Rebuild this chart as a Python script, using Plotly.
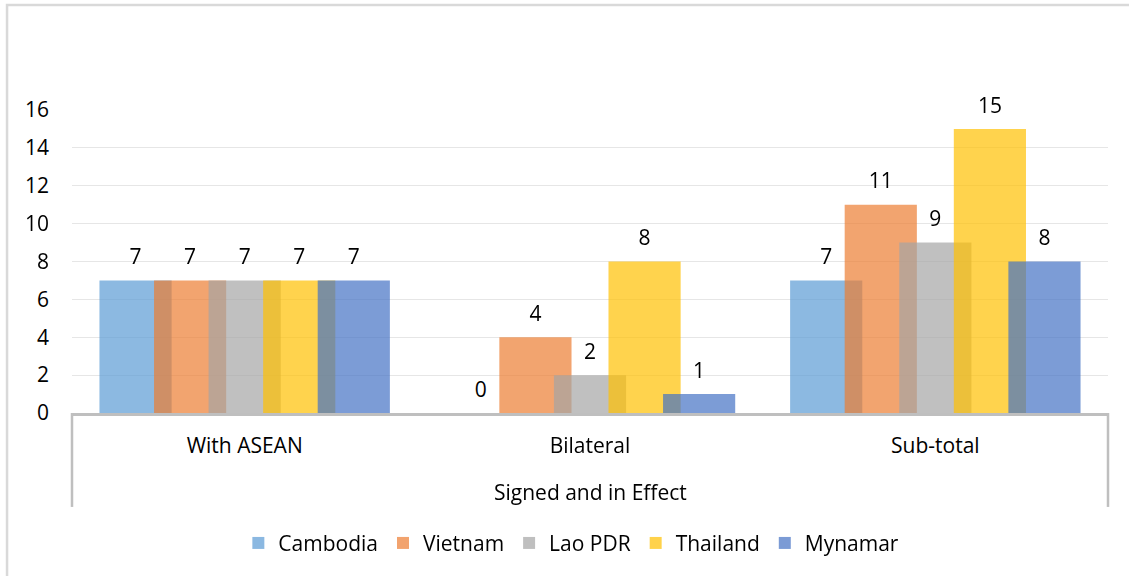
import plotly.graph_objects as go

categories = ["With ASEAN", "Bilateral", "Sub-total"]
group_label = "Signed and in Effect"
series_names = ["Cambodia", "Vietnam", "Lao PDR", "Thailand", "Mynamar"]
cambodia = [7, 0, 7]
vietnam = [7, 4, 11]
lao = [7, 2, 9]
thailand = [7, 8, 15]
myanmar = [7, 1, 8]
y_ticks = [0, 2, 4, 6, 8, 10, 12, 14, 16]

series_values = [cambodia, vietnam, lao, thailand, myanmar]
colors = ["#5B9BD5", "#ED7D31", "#A5A5A5", "#FFC000", "#4472C4"]

FONT = "Open Sans"
FS = 21
TXT = "#000000"

bar_w = 0.209
step = 0.158
start = -(4 * step + bar_w) / 2

fig = go.Figure()
for i, (name, vals, col) in enumerate(zip(series_names, series_values, colors)):
    fig.add_trace(go.Bar(
        x=categories, y=vals, name=name,
        marker=dict(color=col, line=dict(width=0)),
        opacity=0.7,
        offset=start + i * step, width=bar_w,
        hoverinfo="skip",
    ))

for i, (name, vals) in enumerate(zip(series_names, series_values)):
    fig.add_trace(go.Scatter(
        x=categories, y=vals, mode="markers+text",
        text=[str(v) for v in vals], textposition="top center",
        textfont=dict(family=FONT, size=FS, color=TXT),
        marker=dict(size=16, color="rgba(0,0,0,0)"),
        offsetgroup=str(i), alignmentgroup="lbl",
        showlegend=False, cliponaxis=False, hoverinfo="skip",
    ))

shapes = [
    # outer border
    dict(type="rect", xref="paper", yref="paper", x0=-0.0627, x1=1.2, y0=-1.0, y1=1.3465,
         line=dict(color="#D9D9D9", width=2.5), fillcolor="rgba(0,0,0,0)", layer="below"),
    # category box verticals
    dict(type="line", xref="paper", yref="paper", x0=0, x1=0, y0=0, y1=-0.31,
         line=dict(color="#BFBFBF", width=2.5)),
    dict(type="line", xref="paper", yref="paper", x0=1, x1=1, y0=0, y1=-0.31,
         line=dict(color="#BFBFBF", width=2.5)),
]

fig.update_layout(
    width=1129, height=576,
    margin=dict(l=72, r=21, t=110, b=163),
    paper_bgcolor="white", plot_bgcolor="white",
    barmode="overlay",
    scattermode="group", scattergap=0.21,
    font=dict(family=FONT, size=FS, color=TXT),
    showlegend=True,
    hovermode=False,
    legend=dict(orientation="h", x=0.482, xanchor="center", y=-0.43, yanchor="middle",
                font=dict(family=FONT, size=FS, color=TXT), itemwidth=30,
                traceorder="normal"),
    shapes=shapes,
    annotations=[dict(text=group_label, xref="paper", yref="paper", x=0.5, y=-0.261,
                      showarrow=False, xanchor="center", yanchor="middle",
                      font=dict(family=FONT, size=FS, color=TXT))],
    xaxis=dict(type="category", categoryorder="array", categoryarray=categories,
               showline=True, linecolor="#BFBFBF", linewidth=2.5,
               showgrid=False, ticks="", ticklabelstandoff=12,
               tickfont=dict(family=FONT, size=FS, color=TXT)),
    yaxis=dict(range=[0, 16], tickvals=y_ticks, showgrid=True, gridcolor="#E6E6E6",
               gridwidth=1, zeroline=False, showline=False, ticks="",
               ticklabelstandoff=22,
               tickfont=dict(family=FONT, size=FS, color=TXT)),
)

fig.write_html("out.html", config={"displayModeBar": False},
               post_script="document.body.style.margin='0';document.body.style.overflow='hidden';")
